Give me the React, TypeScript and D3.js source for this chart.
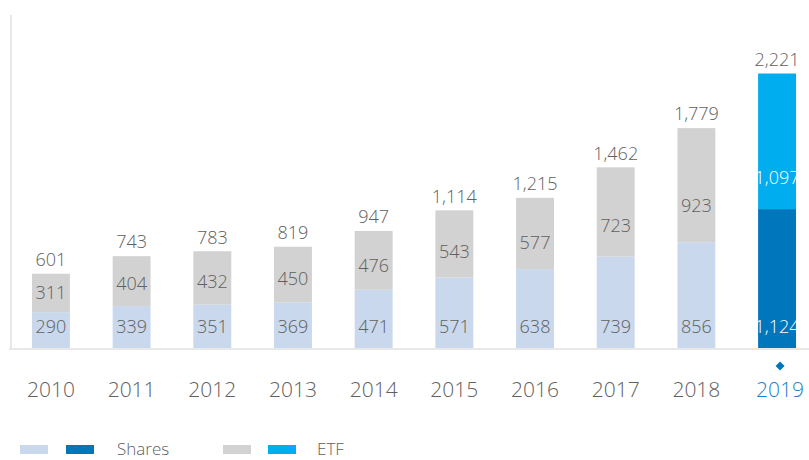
import React from "react";
import * as d3 from "d3";

const years = ["2010", "2011", "2012", "2013", "2014", "2015", "2016", "2017", "2018", "2019"];
const shares = [290, 339, 351, 369, 471, 571, 638, 739, 856, 1124];
const etf = [311, 404, 432, 450, 476, 543, 577, 723, 923, 1097];
const totals = [601, 743, 783, 819, 947, 1114, 1215, 1462, 1779, 2221];
const highlightYear = "2019";

const W = 809;
const H = 460;
const FONT = "'Open Sans', 'Noto Sans', sans-serif";
const TEXT = "#606060";
const C_SHARES = "#c9d8ec";
const C_ETF = "#d2d2d2";
const C_SHARES_H = "#0077bd";
const C_ETF_H = "#00aeef";
const C_HL_TEXT = "#1a7fca";

export default function App() {
  const x = d3.scaleBand<string>().domain(years).range([11, 817]).paddingInner(0.53).paddingOuter(0.26);
  const y = d3.scaleLinear().domain([0, 2221]).range([348, 73.5]);
  const fmt = d3.format(",");
  const bw = x.bandwidth();

  return (
    <svg width={W} height={H} style={{ position: "absolute", left: 0, top: 0, fontFamily: FONT, fontWeight: 300 }}>
      <line x1={11} x2={11} y1={15} y2={348} stroke="#e8e8e8" strokeWidth={2} />
      {years.map((yr, i) => {
        const hl = yr === highlightYear;
        const x0 = x(yr)!;
        const cx = x0 + bw / 2;
        const ySplit = y(shares[i]);
        const yTop = y(shares[i] + etf[i]);
        const segH = ySplit - yTop;
        const segText = hl ? "#ffffff" : TEXT;
        const etfLabelY = hl ? ySplit - 31 : (ySplit + yTop) / 2 + (segH - 40) * 0.28;
        return (
          <g key={yr}>
            <rect x={x0} y={ySplit} width={bw} height={y(0) - ySplit} fill={hl ? C_SHARES_H : C_SHARES} />
            <rect x={x0} y={yTop} width={bw} height={segH} fill={hl ? C_ETF_H : C_ETF} />
            <text x={cx} y={y(0) - 21} dy="0.35em" textAnchor="middle" fontSize={18} fill={segText}>
              {fmt(shares[i])}
            </text>
            <text x={cx} y={etfLabelY} dy="0.35em" textAnchor="middle" fontSize={18} fill={segText}>
              {fmt(etf[i])}
            </text>
            <text x={cx} y={y(totals[i]) - 14} dy="0.35em" textAnchor="middle" fontSize={18} fill={TEXT}>
              {fmt(totals[i])}
            </text>
            <text x={hl ? cx + 3 : cx} y={390} dy="0.35em" textAnchor="middle" fontSize={21} fill={hl ? C_HL_TEXT : TEXT}>
              {yr}
            </text>
            {hl && (
              <rect x={cx + 3 - 3.2} y={366 - 3.2} width={6.4} height={6.4} fill={C_SHARES_H} transform={`rotate(45 ${cx + 3} 366)`} />
            )}
          </g>
        );
      })}
      <line x1={9} x2={809} y1={349} y2={349} stroke="#e8e8e8" strokeWidth={2} />
      <g>
        <rect x={20} y={445} width={28} height={9} fill={C_SHARES} />
        <rect x={66} y={445} width={28} height={9} fill={C_SHARES_H} />
        <text x={117} y={455} fontSize={17} fill={TEXT}>Shares</text>
        <rect x={223} y={445} width={28} height={9} fill={C_ETF} />
        <rect x={268} y={445} width={28} height={9} fill={C_ETF_H} />
        <text x={317} y={455} fontSize={17} fill={TEXT}>ETF</text>
      </g>
    </svg>
  );
}
